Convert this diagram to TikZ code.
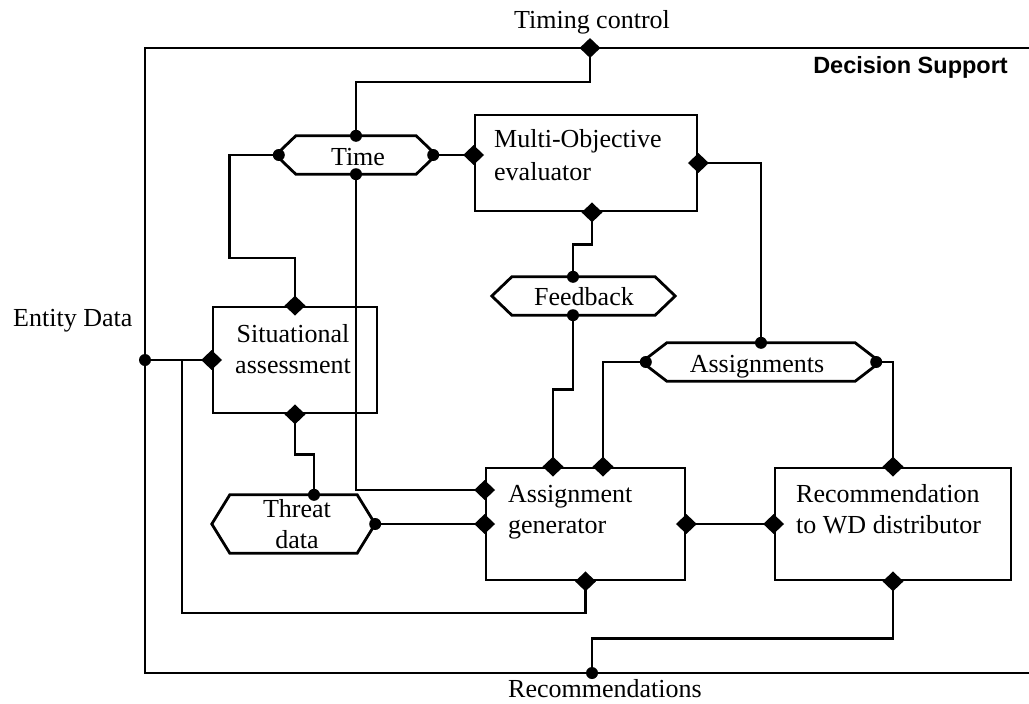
\documentclass[tikz,border=0pt]{standalone}
\usepackage{fontspec}
\setmainfont{Liberation Serif}
\newfontfamily\headfont{Liberation Sans}
\usetikzlibrary{shapes.geometric,calc}

\tikzset{
  wire/.style={line width=2.8pt, line join=miter},
  box/.style={draw, line width=2.8pt, rectangle, inner sep=0pt},
  hexnode/.style={draw=none, rectangle, inner sep=0pt},
  dmd/.style={diamond, fill=black, draw=none, inner sep=0pt, minimum width=21pt, minimum height=20pt},
  dot/.style={circle, fill=black, draw=none, inner sep=0pt, minimum size=12pt},
  lbl/.style={inner sep=0pt, font=\fontsize{26}{31}\selectfont},
}

% six-sided outline around a named node, #2 = width of the pointed ends
\newcommand\hexoutline[2]{%
  \draw[wire] (#1.west) -- ([xshift=#2]#1.north west) -- ([xshift=-#2]#1.north east)
    -- (#1.east) -- ([xshift=-#2]#1.south east) -- ([xshift=#2]#1.south west) -- cycle;}

\begin{document}
\begin{tikzpicture}[x=1pt,y=-1pt]
\useasboundingbox (0,0) rectangle (1029,704);

% ---- outer frame of the Decision Support block
\draw[wire] (1032,48) -- (145,48) -- (145,673) -- (1032,673);
\coordinate (tc) at (590,48);
\coordinate (ed) at (145,360);
\coordinate (rc) at (592,673);

% ---- processing blocks
\node[box, minimum width=222pt, minimum height=96pt]  (mo)  at (586,163) {};
\node[box, minimum width=164pt, minimum height=106pt] (sa)  at (295,360) {};
\node[box, minimum width=199pt, minimum height=112pt] (ag)  at (585.5,524) {};
\node[box, minimum width=236pt, minimum height=112pt] (rec) at (893,524) {};

% ---- data stores (hexagons)
\node[hexnode, minimum width=160pt, minimum height=38pt] (time) at (356,155) {};
\node[hexnode, minimum width=183pt, minimum height=38pt] (fb)   at (583.5,296) {};
\node[hexnode, minimum width=238pt, minimum height=38pt] (asg)  at (761,362) {};
\node[hexnode, minimum width=163pt, minimum height=58pt] (thr)  at (293.5,524) {};
\hexoutline{time}{20pt}
\hexoutline{fb}{20pt}
\hexoutline{asg}{25pt}
\hexoutline{thr}{18pt}

% ---- connectors
\draw[wire] (tc) -- ++(0,34) -| (time.north);
\draw[wire] (time.west) -- ++(-46,0) -- ++(0,103) -| (sa.north);
\draw[wire] (time.south) |- ([yshift=34pt]ag.west);
\draw[wire] (time.east) -- ([yshift=8pt]mo.west);
\draw[wire] ([xshift=6pt]mo.south) -- ++(0,32) -| ([xshift=-10.5pt]fb.north);
\draw[wire] ([xshift=-10.5pt]fb.south) -- ++(0,74) -| ([xshift=-32.5pt]ag.north);
\draw[wire] (mo.east) -| (asg.north);
\draw[wire] (asg.west) -| ([xshift=17.5pt]ag.north);
\draw[wire] (asg.east) -| (rec.north);
\draw[wire] (ed) -- (sa.west);
\draw[wire] (ed) ++(37,0) -- ++(0,253) -| (ag.south);
\draw[wire] (sa.south) -- ++(0,40) -| ([xshift=20.5pt]thr.north);
\draw[wire] (thr.east) -- (ag.west);
\draw[wire] (ag.east) -- (rec.west);
\draw[wire] (rec.south) -- ++(0,57) -| (rc);

% ---- port markers: diamonds on blocks
\node[dmd] (p1)  at (tc) {};
\node[dmd] (p2)  at ([yshift=8pt]mo.west) {};
\node[dmd] (p3)  at (mo.east) {};
\node[dmd] (p4)  at ([xshift=6pt]mo.south) {};
\node[dmd] (p5)  at (sa.north) {};
\node[dmd] (p6)  at (sa.west) {};
\node[dmd] (p7)  at (sa.south) {};
\node[dmd] (p8)  at ([yshift=34pt]ag.west) {};
\node[dmd] (p9)  at (ag.west) {};
\node[dmd] (p10) at ([xshift=-32.5pt]ag.north) {};
\node[dmd] (p11) at ([xshift=17.5pt]ag.north) {};
\node[dmd] (p12) at (ag.south) {};
\node[dmd] (p13) at (ag.east) {};
\node[dmd] (p14) at (rec.north) {};
\node[dmd] (p15) at (rec.west) {};
\node[dmd] (p16) at (rec.south) {};

% ---- port markers: dots on data stores and frame
\node[dot] (d1)  at (time.north) {};
\node[dot] (d2)  at (time.south) {};
\node[dot] (d3)  at ([xshift=3pt]time.west) {};
\node[dot] (d4)  at ([xshift=-3pt]time.east) {};
\node[dot] (d5)  at ([xshift=-10.5pt]fb.north) {};
\node[dot] (d6)  at ([xshift=-10.5pt]fb.south) {};
\node[dot] (d7)  at (asg.north) {};
\node[dot] (d8)  at ([xshift=4pt]asg.west) {};
\node[dot] (d9)  at ([xshift=-4pt]asg.east) {};
\node[dot] (d10) at ([xshift=20.5pt]thr.north) {};
\node[dot] (d11) at (thr.east) {};
\node[dot] (d12) at (ed) {};
\node[dot] (d13) at (rc) {};

% ---- texts
\node[lbl, anchor=base] (t-timing) at (592,28) {Timing control};
\node[inner sep=0pt, anchor=base east, font=\headfont\bfseries\fontsize{23.5}{28}\selectfont] (t-ds) at (1008,73) {Decision Support};
\node[lbl, anchor=base west] (t-entity) at (13,326) {Entity Data};
\node[lbl, anchor=base west] (t-recs) at (508,697) {Recommendations};

\node[lbl, anchor=base west] (t-mo1) at (494,147) {Multi-Objective};
\node[lbl, anchor=base west] (t-mo2) at (494,180) {evaluator};
\node[lbl, anchor=base] (t-sa1) at (293,342) {Situational};
\node[lbl, anchor=base] (t-sa2) at (293,373) {assessment};
\node[lbl, anchor=base west] (t-ag1) at (508,502) {Assignment};
\node[lbl, anchor=base west] (t-ag2) at (508,533) {generator};
\node[lbl, anchor=base west] (t-rec1) at (796,502) {Recommendation};
\node[lbl, anchor=base west] (t-rec2) at (796,533) {to WD distributor};

\node[lbl, anchor=base] (t-time) at (358,165) {Time};
\node[lbl, anchor=base] (t-fb) at (584,305) {Feedback};
\node[lbl, anchor=base] (t-asg) at (757,372) {Assignments};
\node[lbl, anchor=base] (t-thr1) at (297,517) {Threat};
\node[lbl, anchor=base] (t-thr2) at (297,548) {data};
\end{tikzpicture}
\end{document}
